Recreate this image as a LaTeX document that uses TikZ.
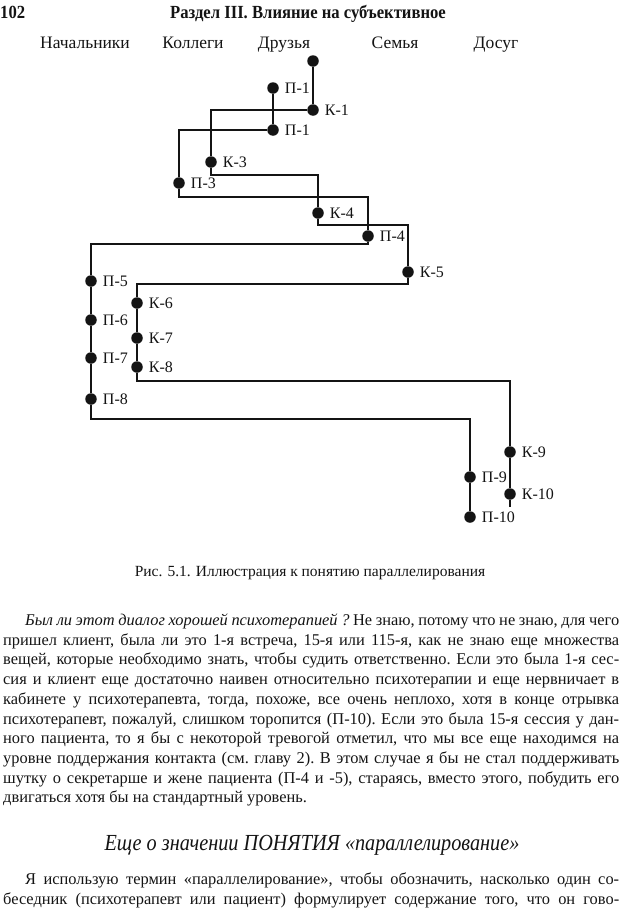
\documentclass[tikz,border=0pt]{standalone}
\usepackage{fontspec}
\setmainfont{Liberation Serif}
\newfontfamily\RunHeadFace[FakeStretch=0.9]{Liberation Serif}
\newfontfamily\SecTitleFace[FakeStretch=0.88]{Liberation Serif}
\usetikzlibrary{positioning}
\definecolor{inkBlack}{RGB}{20,20,20}
\newcommand{\BodyFont}{\frenchspacing\fontsize{16.4}{19.7}\selectfont}
\newcommand{\TagFont}{\fontsize{16}{18}\selectfont}
\newcommand{\ColFont}{\fontsize{17.5}{20}\selectfont}
\newcommand{\CapFont}{\fontsize{15.5}{18}\selectfont}
\newcommand{\PgHeadFont}{\RunHeadFace\bfseries\fontsize{18.5}{20}\selectfont}
\newcommand{\SecTitleFont}{\SecTitleFace\fontsize{23}{26}\selectfont\itshape}
\newcommand{\FullLine}[1]{\makebox[616pt][s]{#1}}

\begin{document}
\begin{tikzpicture}[x=1pt,y=-1pt,
  dot/.style={circle,fill=inkBlack,inner sep=0pt,minimum size=11.5pt},
  wire/.style={draw=inkBlack,line width=1.5pt},
  tag/.style={label={[font=\TagFont,text=inkBlack,label distance=2.5pt]right:#1}},
  txt/.style={inner sep=0pt,text=inkBlack},
  bodyline/.style={txt,font=\BodyFont,anchor=base west}]
\fill[white] (0,0) rectangle (620,913);
\useasboundingbox (0,0) rectangle (620,913);

% running head
\node[txt,font=\PgHeadFont,anchor=base west] (pagenum) at (0,18) {102};
\node[txt,font=\PgHeadFont,anchor=base] (runhead) at (308,18) {Раздел III. Влияние на субъективное};

% column heads
\node[txt,font=\ColFont,anchor=base] (colBoss) at (85,48) {Начальники};
\node[txt,font=\ColFont,anchor=base] (colMates) at (193,48) {Коллеги};
\node[txt,font=\ColFont,anchor=base] (colFriends) at (284,48) {Друзья};
\node[txt,font=\ColFont,anchor=base] (colFamily) at (395,48) {Семья};
\node[txt,font=\ColFont,anchor=base] (colLeisure) at (496,48) {Досуг};

% client turns
\node[dot] (k0) at (313,61) {};
\node[dot,tag=К-1] (k1) at (313,110) {};
\node[dot,tag=К-3] (k3) at (211,162) {};
\node[dot,tag=К-4] (k4) at (318,213) {};
\node[dot,tag=К-5] (k5) at (408,272) {};
\node[dot,tag=К-6] (k6) at (137,303) {};
\node[dot,tag=К-7] (k7) at (137,338) {};
\node[dot,tag=К-8] (k8) at (137,367) {};
\node[dot,tag=К-9] (k9) at (510,452) {};
\node[dot,tag=К-10] (k10) at (510,494) {};
\coordinate (kend) at (510,507);

% therapist turns
\node[dot,tag=П-1] (p1) at (273,88) {};
\node[dot,tag=П-1] (p2) at (273,130) {};
\node[dot,tag=П-3] (p3) at (179,183) {};
\node[dot,tag=П-4] (p4) at (368,236) {};
\node[dot,tag=П-5] (p5) at (91,281) {};
\node[dot,tag=П-6] (p6) at (91,320) {};
\node[dot,tag=П-7] (p7) at (91,358) {};
\node[dot,tag=П-8] (p8) at (91,399) {};
\node[dot,tag=П-9] (p9) at (470,477) {};
\node[dot,tag=П-10] (p10) at (470,517) {};

% client line
\draw[wire] (k0) -- (k1);
\draw[wire] (k1) -| (k3);
\draw[wire] (k3) -- ++(0,13) -| (k4);
\draw[wire] (k4) -- ++(0,12) -| (k5);
\draw[wire] (k5) -- ++(0,12) -| (k6);
\draw[wire] (k6) -- (k7) -- (k8);
\draw[wire] (k8) -- ++(0,14) -| (k9);
\draw[wire] (k9) -- (k10) -- (kend);

% therapist line
\draw[wire] (p1) -- (p2);
\draw[wire] (p2) -| (p3);
\draw[wire] (p3) -- ++(0,14) -| (p4);
\draw[wire] (p4) -- ++(0,8) -| (p5);
\draw[wire] (p5) -- (p6) -- (p7) -- (p8);
\draw[wire] (p8) -- ++(0,20) -| (p9);
\draw[wire] (p9) -- (p10);

\node[txt,font=\CapFont,anchor=base] (caption) at (310,576) {Рис. 5.1. Иллюстрация к понятию параллелирования};

% text
\node[bodyline] (line1) at (3,625.5) {\FullLine{\hspace*{22pt}\textit{Был ли этот диалог хорошей психотерапией ?} Не знаю, потому что не знаю, для чего}};
\node[bodyline] (line2) at (3,645.2) {\FullLine{пришел клиент, была ли это 1-я встреча, 15-я или 115-я, как не знаю еще множества}};
\node[bodyline] (line3) at (3,664.9) {\FullLine{вещей, которые необходимо знать, чтобы судить ответственно. Если это была 1-я сес-}};
\node[bodyline] (line4) at (3,684.6) {\FullLine{сия и клиент еще достаточно наивен относительно психотерапии и еще нервничает в}};
\node[bodyline] (line5) at (3,704.3) {\FullLine{кабинете у психотерапевта, тогда, похоже, все очень неплохо, хотя в конце отрывка}};
\node[bodyline] (line6) at (3,724.0) {\FullLine{психотерапевт, пожалуй, слишком торопится (П-10). Если это была 15-я сессия у дан-}};
\node[bodyline] (line7) at (3,743.7) {\FullLine{ного пациента, то я бы с некоторой тревогой отметил, что мы все еще находимся на}};
\node[bodyline] (line8) at (3,763.4) {\FullLine{уровне поддержания контакта (см. главу 2). В этом случае я бы не стал поддерживать}};
\node[bodyline] (line9) at (3,783.1) {\FullLine{шутку о секретарше и жене пациента (П-4 и -5), стараясь, вместо этого, побудить его}};
\node[bodyline] (line10) at (3,802.8) {двигаться хотя бы на стандартный уровень.};

\node[txt,font=\SecTitleFont,anchor=base] (sectitle) at (312,850) {Еще о значении ПОНЯТИЯ «параллелирование»};

\node[bodyline] (line11) at (3,884.5) {\FullLine{\hspace*{22pt}Я использую термин «параллелирование», чтобы обозначить, насколько один со-}};
\node[bodyline] (line12) at (3,904.2) {\FullLine{беседник (психотерапевт или пациент) формулирует содержание того, что он гово-}};
\end{tikzpicture}
\end{document}
